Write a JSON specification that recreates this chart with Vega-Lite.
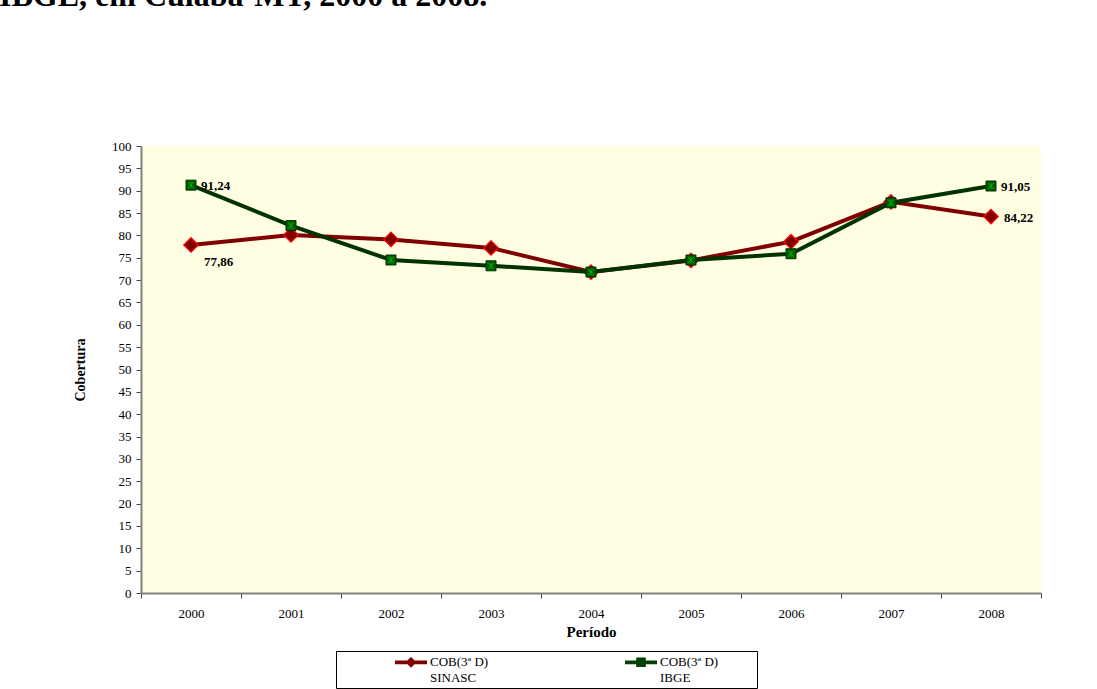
{
  "$schema": "https://vega.github.io/schema/vega-lite/v6.json",
  "width": 900,
  "height": 447,
  "autosize": {"type": "none"},
  "padding": {"left": 141, "top": 146, "right": 56, "bottom": 96},
  "background": "#FFFFFF",
  "title": {
    "text": "IBGE, em Cuiabá-MT, 2000 a 2008.",
    "anchor": "start",
    "frame": "group",
    "orient": "top",
    "baseline": "alphabetic",
    "offset": 102,
    "dx": -142,
    "font": "Liberation Serif",
    "fontSize": 32,
    "fontWeight": "bold",
    "color": "#000000"
  },
  "config": {
    "locale": {"number": {"decimal": ",", "thousands": ".", "grouping": [3], "currency": ["R$ ", ""]}},
    "view": {"fill": "#FFFDE2", "stroke": null},
    "font": "Liberation Serif"
  },
  "data": {
    "values": [
      {"ano": "2000", "serie": "SINASC", "cobertura": 77.86, "rotulo": true},
      {"ano": "2001", "serie": "SINASC", "cobertura": 80.1, "rotulo": false},
      {"ano": "2002", "serie": "SINASC", "cobertura": 79.1, "rotulo": false},
      {"ano": "2003", "serie": "SINASC", "cobertura": 77.2, "rotulo": false},
      {"ano": "2004", "serie": "SINASC", "cobertura": 71.8, "rotulo": false},
      {"ano": "2005", "serie": "SINASC", "cobertura": 74.4, "rotulo": false},
      {"ano": "2006", "serie": "SINASC", "cobertura": 78.6, "rotulo": false},
      {"ano": "2007", "serie": "SINASC", "cobertura": 87.5, "rotulo": false},
      {"ano": "2008", "serie": "SINASC", "cobertura": 84.22, "rotulo": true},
      {"ano": "2000", "serie": "IBGE", "cobertura": 91.24, "rotulo": true},
      {"ano": "2001", "serie": "IBGE", "cobertura": 82.2, "rotulo": false},
      {"ano": "2002", "serie": "IBGE", "cobertura": 74.5, "rotulo": false},
      {"ano": "2003", "serie": "IBGE", "cobertura": 73.2, "rotulo": false},
      {"ano": "2004", "serie": "IBGE", "cobertura": 71.8, "rotulo": false},
      {"ano": "2005", "serie": "IBGE", "cobertura": 74.5, "rotulo": false},
      {"ano": "2006", "serie": "IBGE", "cobertura": 75.9, "rotulo": false},
      {"ano": "2007", "serie": "IBGE", "cobertura": 87.3, "rotulo": false},
      {"ano": "2008", "serie": "IBGE", "cobertura": 91.05, "rotulo": true}
    ]
  },
  "encoding": {
    "x": {
      "field": "ano",
      "type": "ordinal",
      "scale": {"type": "band", "paddingInner": 0, "paddingOuter": 0},
      "axis": {
        "title": "Período",
        "labelAngle": 0,
        "tickBand": "extent",
        "tickSize": 5,
        "tickColor": "#404040",
        "domainColor": "#808080",
        "domainWidth": 2,
        "labelFont": "Liberation Serif",
        "labelFontSize": 13,
        "labelColor": "#000000",
        "labelPadding": 9,
        "titleFont": "Liberation Serif",
        "titleFontSize": 15,
        "titleFontWeight": "bold",
        "titleColor": "#000000",
        "titlePadding": 4
      }
    },
    "y": {
      "field": "cobertura",
      "type": "quantitative",
      "scale": {"domain": [0, 100], "nice": false, "zero": true},
      "axis": {
        "title": "Cobertura",
        "values": [0, 5, 10, 15, 20, 25, 30, 35, 40, 45, 50, 55, 60, 65, 70, 75, 80, 85, 90, 95, 100],
        "grid": false,
        "tickSize": 5,
        "tickColor": "#404040",
        "domainColor": "#808080",
        "domainWidth": 2,
        "labelFont": "Liberation Serif",
        "labelFontSize": 13,
        "labelColor": "#000000",
        "labelPadding": 5,
        "titleFont": "Liberation Serif",
        "titleFontSize": 14,
        "titleFontWeight": "bold",
        "titleColor": "#000000",
        "titlePadding": 24
      }
    }
  },
  "layer": [
    {
      "transform": [{"filter": "datum.serie === 'SINASC'"}],
      "mark": {"type": "line", "strokeWidth": 4},
      "encoding": {
        "color": {
          "field": "serie",
          "type": "nominal",
          "scale": {"domain": ["SINASC", "IBGE"], "range": ["#800000", "#003300"]},
          "legend": {
            "orient": "none",
            "legendX": 195,
            "legendY": 505,
            "direction": "horizontal",
            "columns": 2,
            "title": "\u00a0",
            "titleOrient": "right",
            "titlePadding": 36,
            "titleFontSize": 13,
            "fillColor": "#FFFFFF",
            "strokeColor": "#000000",
            "padding": 3,
            "symbolOffset": 56,
            "symbolSize": 1024,
            "columnPadding": 80,
            "labelOffset": 3,
            "labelFont": "Liberation Serif",
            "labelFontSize": 13,
            "labelColor": "#000000",
            "labelBaseline": "middle",
            "labelExpr": "['COB(3ª D)', datum.label]",
            "encode": {
              "labels": {
                "update": {
                  "lineHeight": {"value": 16},
                  "dy": {"value": -8}
                }
              },
              "symbols": {
                "update": {
                  "shape": {"signal": "datum.value === 'SINASC' ? 'M-1,-0.6H1V-0.36H-1Z M0,-0.82L0.34,-0.48L0,-0.14L-0.34,-0.48Z' : 'M-1,-0.6H1V-0.36H-1Z M-0.3,-0.78H0.3V-0.18H-0.3Z'"},
                  "fill": {"signal": "datum.value === 'SINASC' ? '#800000' : '#004000'"},
                  "stroke": {"value": null},
                  "strokeWidth": {"value": 0},
                  "opacity": {"value": 1}
                }
              }
            }
          }
        }
      }
    },
    {
      "transform": [{"filter": "datum.serie === 'SINASC'"}],
      "mark": {"type": "point", "shape": "diamond", "size": 210, "filled": true, "fill": "#800000", "stroke": "#FF0000", "strokeWidth": 1.2, "opacity": 1}
    },
    {
      "transform": [{"filter": "datum.serie === 'IBGE'"}],
      "mark": {"type": "line", "strokeWidth": 4, "color": "#003300"}
    },
    {
      "transform": [{"filter": "datum.serie === 'IBGE'"}],
      "mark": {"type": "point", "shape": "square", "size": 100, "filled": true, "fill": "#005A00", "stroke": "#003300", "strokeWidth": 1, "opacity": 1}
    },
    {
      "transform": [{"filter": "datum.serie === 'IBGE'"}],
      "mark": {"type": "point", "shape": "M-1,-1L1,1M1,-1L-1,1M0,-1L0,1", "size": 40, "filled": false, "stroke": "#00B000", "strokeWidth": 1, "opacity": 1}
    },
    {
      "transform": [{"filter": "datum.rotulo && datum.serie === 'IBGE'"}],
      "mark": {"type": "text", "align": "left", "baseline": "middle", "dx": 10, "dy": 1, "font": "Liberation Serif", "fontSize": 13, "fontWeight": "bold", "color": "#000000"},
      "encoding": {"text": {"field": "cobertura", "type": "quantitative", "format": ".2f"}}
    },
    {
      "transform": [{"filter": "datum.rotulo && datum.serie === 'SINASC' && datum.ano === '2000'"}],
      "mark": {"type": "text", "align": "left", "baseline": "middle", "dx": 13, "dy": 17, "font": "Liberation Serif", "fontSize": 13, "fontWeight": "bold", "color": "#000000"},
      "encoding": {"text": {"field": "cobertura", "type": "quantitative", "format": ".2f"}}
    },
    {
      "transform": [{"filter": "datum.rotulo && datum.serie === 'SINASC' && datum.ano === '2008'"}],
      "mark": {"type": "text", "align": "left", "baseline": "middle", "dx": 13, "dy": 1, "font": "Liberation Serif", "fontSize": 13, "fontWeight": "bold", "color": "#000000"},
      "encoding": {"text": {"field": "cobertura", "type": "quantitative", "format": ".2f"}}
    }
  ]
}
